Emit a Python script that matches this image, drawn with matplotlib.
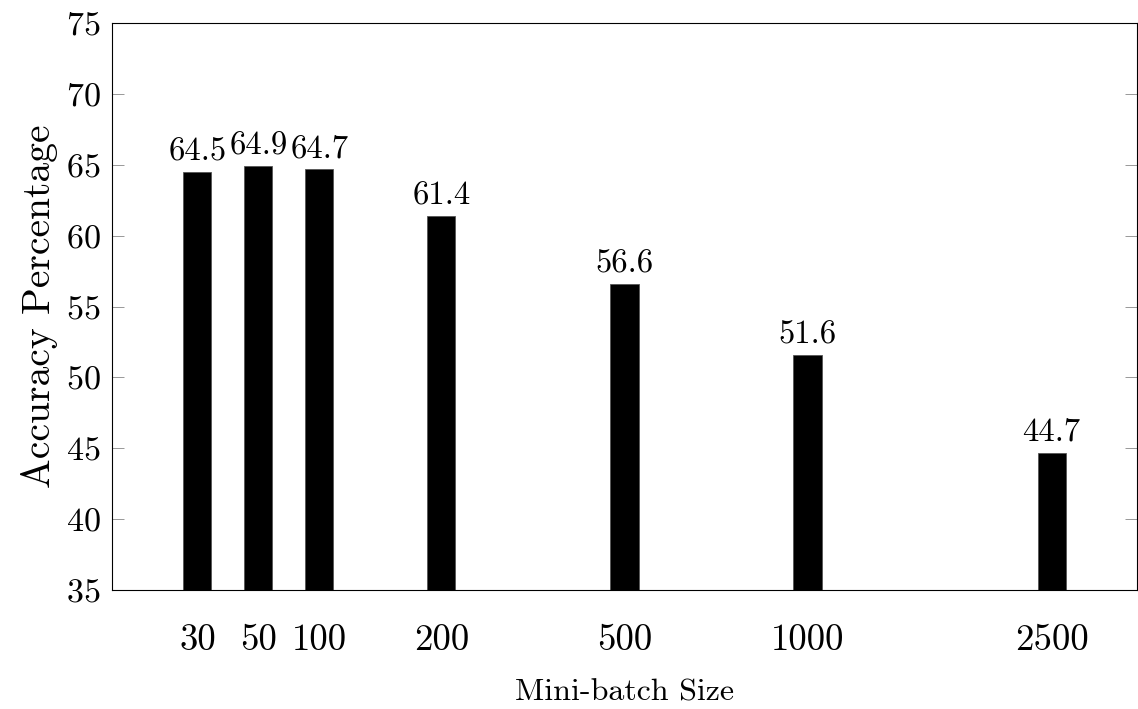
import matplotlib
matplotlib.use("Agg")
import matplotlib.pyplot as plt

# Computer Modern look
plt.rcParams["font.family"] = "serif"
plt.rcParams["font.serif"] = ["cmr10"]
plt.rcParams["mathtext.fontset"] = "cm"
plt.rcParams["axes.formatter.use_mathtext"] = True

# ==========================
# DATA
# ==========================
batch_sizes = ["30", "50", "100", "200", "500", "1000", "2500"]
accuracy = [64.5, 64.9, 64.7, 61.4, 56.6, 51.6, 44.7]

# slot of each bar along the x axis
bar_slots = [0, 1, 2, 4, 7, 10, 14]

y_ticks = [35, 40, 45, 50, 55, 60, 65, 70, 75]

# ==========================
# PLOT
# ==========================
fig = plt.figure(figsize=(11.38, 7.09), dpi=100)
ax = fig.add_axes([0.0984, 0.1678, 0.9007, 0.7998])

ax.bar(bar_slots, accuracy, width=0.46, color="black", edgecolor="#555555", linewidth=0.6)

for x, v in zip(bar_slots, accuracy):
    ax.annotate(f"{v:.1f}", xy=(x, v), xytext=(0, 4), textcoords="offset points",
                ha="center", va="bottom", fontsize=23.5)

ax.set_xlim(-1.4, 15.4)
ax.set_ylim(35, 75)
ax.set_yticks(y_ticks)
ax.set_xticks(bar_slots)
ax.set_xticklabels(batch_sizes, fontsize=26.5)

ax.tick_params(axis="y", direction="in", length=8.6, width=0.6, color="#888888",
               labelsize=24.5, pad=8, right=True)
ax.tick_params(axis="x", length=0, pad=24)

for sp in ax.spines.values():
    sp.set_linewidth(0.8)
    sp.set_color("black")

ax.set_xlabel("Mini-batch Size", fontsize=23, labelpad=16)
ax.set_ylabel("Accuracy Percentage", fontsize=28.5, labelpad=6)

plt.savefig("out.png", dpi=100)
